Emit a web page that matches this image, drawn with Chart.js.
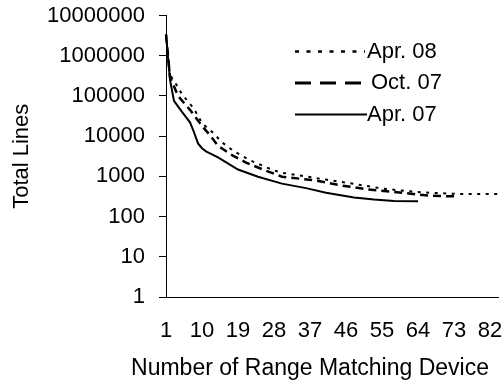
<!DOCTYPE html>
<html><head><meta charset="utf-8">
<script src="https://cdn.jsdelivr.net/npm/chart.js@4/dist/chart.umd.min.js"></script>
<style>html,body{margin:0;padding:0;background:#fff}#wrap{width:504px;height:387px}</style>
</head><body><div id="wrap"><canvas id="c" width="504" height="387"></canvas></div>
<script>
// Categories: number of range matching devices, 1..84
const categories = ['1','2','3','4','5','6','7','8','9','10','11','12','13','14','15','16','17','18','19','20',
'21','22','23','24','25','26','27','28','29','30','31','32','33','34','35','36','37','38','39','40',
'41','42','43','44','45','46','47','48','49','50','51','52','53','54','55','56','57','58','59','60',
'61','62','63','64','65','66','67','68','69','70','71','72','73','74','75','76','77','78','79','80',
'81','82','83','84'];
const xTickLabels = ['1','10','19','28','37','46','55','64','73','82'];
const yTickValues = [1,10,100,1000,10000,100000,1000000,10000000];

// [category, total lines]
const apr08 = [[1,3400000],[2,330000],[3,240000],[5,110000],[8,48000],[10,21000],[13,11500],[15,7000],
  [18,4200],[22,2500],[28,1400],[30,1230],[41,830],[48,650],[55,500],[61,430],[67,390],[74,365],[84,365]];
const oct07 = [[1,3400000],[2,300000],[4,100000],[7,45000],[10,18000],[12,10500],[14,5800],[17,3600],
  [21,2200],[26,1380],[30,980],[38,800],[45,590],[51,480],[58,410],[64,355],[67,330],[74,316]];
const apr07 = [[1,3400000],[2,250000],[3,75000],[5,40000],[7,22000],[8,12500],[9,6600],[10,5000],
  [11,4200],[14,2950],[19,1480],[24,980],[30,660],[36,510],[41,390],[48,300],[53,265],[58,245],[64,240]];

const seriesNames = ['Apr. 08','Oct. 07','Apr. 07'];
const yTitle = 'Total Lines';
const xTitle = 'Number of Range Matching Device';
const toPts = arr => arr.map(([x,y]) => ({x: String(x), y}));
const FONT = "'Liberation Sans', Arial, sans-serif";
const FS = 22;

const legendPlugin = {
  id: 'insideLegend',
  afterDatasetsDraw(chart) {
    const ctx = chart.ctx;
    const rows = [51.5, 83, 114.5];
    const lineEnd = [365, 362, 367];
    const textX = [367, 371, 367];
    ctx.save();
    chart.data.datasets.forEach((ds, i) => {
      const y = rows[i];
      ctx.beginPath();
      ctx.setLineDash(ds.legendDash || []);
      ctx.lineWidth = ds.legendWidth;
      ctx.strokeStyle = ds.borderColor;
      ctx.lineCap = 'butt';
      ctx.moveTo(295, y);
      ctx.lineTo(lineEnd[i], y);
      ctx.stroke();
      ctx.setLineDash([]);
      ctx.fillStyle = '#000';
      ctx.font = FS + 'px ' + FONT;
      ctx.textBaseline = 'middle';
      ctx.textAlign = 'left';
      ctx.fillText(ds.label, textX[i], y);
    });
    // x-axis title (offset to the left like the original)
    ctx.font = '23px ' + FONT;
    ctx.textAlign = 'center';
    ctx.textBaseline = 'middle';
    ctx.fillText(xTitle, 310, 369);
    ctx.restore();
  }
};

new Chart(document.getElementById('c'), {
  type: 'line',
  data: {
    labels: categories,
    datasets: [
      {label: seriesNames[0], data: toPts(apr08), borderColor: '#000', borderWidth: 2,
       borderDash: [3,5.5], legendDash: [4,7.5], legendWidth: 2.5, pointRadius: 0, tension: 0, fill: false},
      {label: seriesNames[1], data: toPts(oct07), borderColor: '#000', borderWidth: 2.5,
       borderDash: [8,5], legendDash: [16,9], legendWidth: 3, pointRadius: 0, tension: 0, fill: false},
      {label: seriesNames[2], data: toPts(apr07), borderColor: '#000', borderWidth: 2,
       borderDash: [], legendDash: [], legendWidth: 1.8, pointRadius: 0, tension: 0, fill: false}
    ]
  },
  options: {
    responsive: false,
    animation: false,
    devicePixelRatio: 1,
    layout: {padding: {top: 15.5, right: 6, left: 9, bottom: 0}},
    plugins: {legend: {display: false}, tooltip: {enabled: false}},
    scales: {
      x: {
        type: 'category',
        offset: false,
        grid: {display: false, drawTicks: false},
        border: {display: true, color: '#000', width: 1},
        ticks: {autoSkip: false, maxRotation: 0, minRotation: 0, color: '#000', padding: 21,
                font: {family: FONT, size: FS}},
        afterBuildTicks: s => { s.ticks = s.ticks.filter(t => xTickLabels.includes(categories[t.value])); },
        afterFit: s => { s.height = 90; s.paddingLeft = 0; s.paddingRight = 0; },
        title: {display: false}
      },
      y: {
        type: 'logarithmic',
        min: 1, max: 10000000,
        grid: {display: true, drawOnChartArea: false, drawTicks: true, tickLength: 7, color: '#000'},
        border: {display: true, color: '#000', width: 1},
        afterBuildTicks: s => { s.ticks = yTickValues.map(v => ({value: v})); },
        afterFit: s => { s.width = 157; s.paddingTop = 0; s.paddingBottom = 0; },
        ticks: {color: '#000', padding: 14, font: {family: FONT, size: FS}, callback: v => String(v)},
        title: {display: true, text: yTitle, color: '#000', font: {family: FONT, size: FS}, padding: 0}
      }
    }
  },
  plugins: [legendPlugin]
});
</script></body></html>
